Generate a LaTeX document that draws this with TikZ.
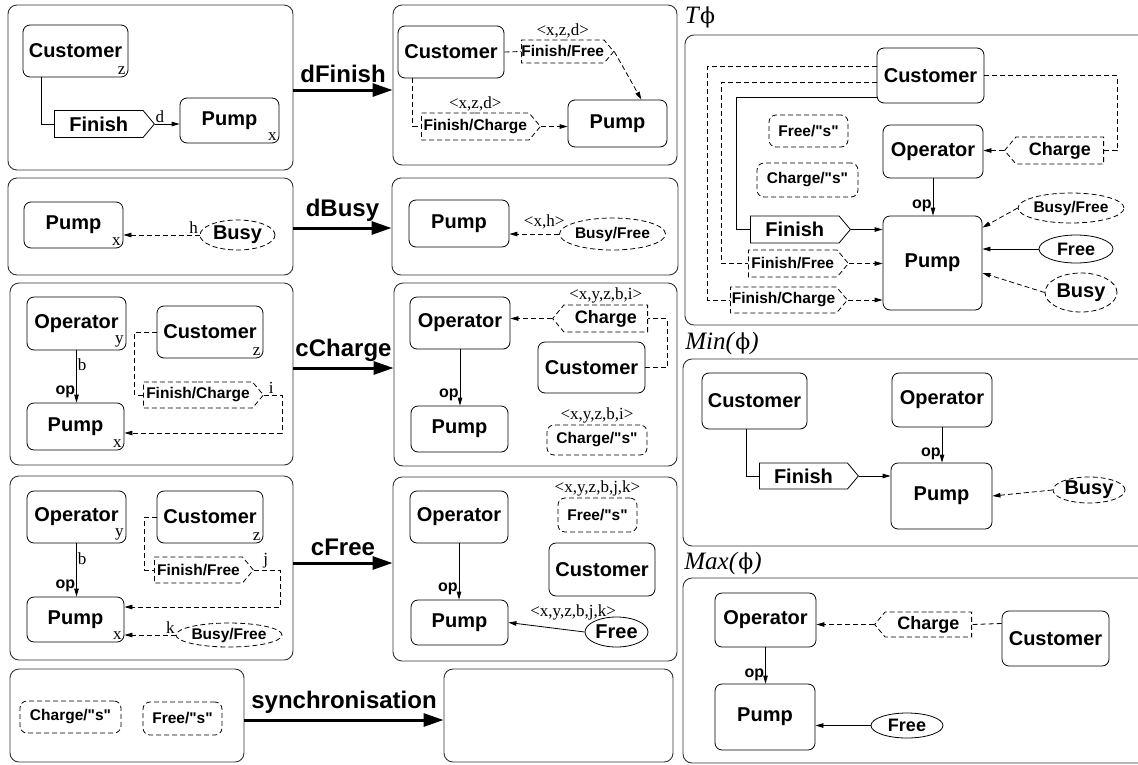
\documentclass[tikz,border=0pt]{standalone}
\usepackage{fontspec}
\setmainfont{Liberation Serif}
\setsansfont{Liberation Sans}
\newfontfamily\griega{DejaVu Serif}
\usepackage{tikz}
\usetikzlibrary{arrows.meta,shapes.geometric,shapes.symbols,calc}
\tikzset{
  marco/.style={draw=black!80,line width=0.9pt,rounded corners=9pt,inner sep=0pt},
  grande/.style={font=\sffamily\bfseries\fontsize{20}{22}\selectfont},
  medio/.style={font=\sffamily\bfseries\fontsize{18}{20}\selectfont},
  chica/.style={font=\sffamily\bfseries\fontsize{15.5}{17}\selectfont},
  etiq/.style={font=\fontsize{17}{19}\selectfont,inner sep=1pt},
  rotulo/.style={font=\sffamily\bfseries\fontsize{24}{26}\selectfont},
  titulo/.style={font=\fontsize{25}{27}\selectfont,inner sep=0pt},
  opl/.style={font=\sffamily\bfseries\fontsize{16}{18}\selectfont,inner sep=1pt},
  tam/.style 2 args={minimum width=#1,minimum height=#2},
  discont/.style={dash pattern=on 5pt off 3pt},
  caja/.style={draw,rounded corners=7pt,inner sep=0pt,grande},
  cajad/.style={draw,discont,rounded corners=7pt,inner sep=0pt,chica},
  elipse/.style={draw,ellipse,inner sep=0pt},
  senal/.style={draw,signal,signal to=east,signal pointer angle=100,inner sep=0pt},
  fl/.style={-{Triangle[length=8pt,width=4.5pt]}},
  flecha/.style={line width=3pt,-{Triangle[length=20pt,width=13pt]}},
  indice/.style={label={[etiq,anchor=south east,inner sep=2.5pt]south east:#1}}
}
\newcommand{\comis}{\textquotedbl s\textquotedbl}
\newcommand{\letrafi}{{\griega\fontsize{22}{24}\selectfont ϕ}}

\begin{document}
\begin{tikzpicture}[x=1pt,y=-1pt,line width=0.8pt]
\useasboundingbox (0,0) rectangle (1138,764);
\clip (0,0) rectangle (1138,764);
% marcos
\node[marco,tam={285}{165}] (izq1) at (150.5,87.5) {};
\node[marco,tam={284}{160}] (der1) at (535,85) {};
\node[marco,tam={285}{97}] (izq2) at (150.5,226.5) {};
\node[marco,tam={286}{97}] (der2) at (535,226.5) {};
\node[marco,tam={283}{182}] (izq3) at (151.5,374) {};
\node[marco,tam={283}{183}] (der3) at (535.5,374.5) {};
\node[marco,tam={283}{184}] (izq4) at (151.5,568) {};
\node[marco,tam={284}{184}] (der4) at (535,569) {};
\node[marco,tam={234}{93}] (izq5) at (127,715.5) {};
\node[marco,tam={229}{93}] (der5) at (558.5,715.5) {};
\node[marco,tam={465}{290}] (panT) at (917.5,180) {};
\node[marco,tam={467}{187}] (panM) at (916.5,452.5) {};
\node[marco,tam={467}{185}] (panX) at (916.5,670.5) {};
% reglas
\draw[flecha] ($(izq1.east)+(0,2.5)$) coordinate (a1) -- node[rotulo,above=2pt] {dFinish} (a1 -| der1.west);
\draw[flecha] ($(izq2.east)+(0,1.5)$) coordinate (a2) -- node[rotulo,above=2pt] {dBusy} (a2 -| der2.west);
\draw[flecha] ($(izq3.east)+(0,-6)$) coordinate (a3) -- node[rotulo,above=2pt] {cCharge} (a3 -| der3.west);
\draw[flecha] ($(izq4.east)+(0,-5)$) coordinate (a4) -- node[rotulo,above=2pt] {cFree} (a4 -| der4.west);
\draw[flecha] ($(izq5.east)+(0,4.5)$) coordinate (a5) -- node[rotulo,above=2pt] {synchronisation} (a5 -| der5.west);
% dFinish
\node[caja,tam={105}{52},indice=z] (cli1) at (75.5,51) {Customer};
\node[caja,tam={99}{45},indice=x] (bom1) at (229.5,120.5) {Pump};
\node[senal,grande,tam={100}{27},anchor=west] (fin1) at (54,124) {Finish};
\draw (cli1.south west) ++(19,0) |- (fin1.west);
\draw[fl] (fin1.east) -- node[etiq,pos=0.2,above]{d} (fin1.east -| bom1.west);
\node[caja,tam={106}{52}] (cli2) at (451,52) {Customer};
\node[caja,tam={99}{47}] (bom2) at (617.5,123.5) {Pump};
\node[senal,discont,chica,tam={92}{23},anchor=west,label={[etiq]above:{<x,z,d>}}] (ff2) at (521,51.5) {Finish/Free};
\node[senal,discont,chica,tam={119}{27},anchor=west,label={[etiq]above:{<x,z,d>}}] (fc2) at (421,126.5) {Finish/Charge};
\draw[discont] (cli2.east) -- (ff2.west);
\draw[discont,fl] (ff2.east) -- (bom2.45);
\draw[discont] (cli2.south west) ++(15,0) |- (fc2.west);
\draw[discont,fl] (fc2.east) -- (fc2.east -| bom2.west);
% dBusy
\node[caja,tam={99}{46},indice=x] (bom3) at (73.5,225) {Pump};
\node[elipse,discont,grande,tam={75}{30}] (ocu3) at (237.5,235) {Busy};
\draw[discont,fl] (ocu3.west) -- node[etiq,pos=0.08,above]{h} (ocu3.west -| bom3.east);
\node[caja,tam={100}{47}] (bom4) at (459,223.5) {Pump};
\node[elipse,discont,chica,tam={87}{32}] (of4) at (612.5,234) {Busy/Free};
\draw[discont,fl] (of4.west) -- node[etiq,pos=0.3,above=3pt]{<x,h>} (of4.west -| bom4.east);
% cCharge
\node[caja,tam={99}{53},indice=y] (ope5) at (76.5,323.5) {Operator};
\node[caja,tam={106}{52},indice=z] (cli5) at (210,332) {Customer};
\node[caja,tam={97}{47},indice=x] (bom5) at (75.5,426.5) {Pump};
\draw[fl] (ope5.south) -- node[etiq,pos=0.28,right]{b} node[opl,pos=0.8,left]{op} (ope5.south |- bom5.north);
\node[senal,discont,chica,tam={120}{26},anchor=west] (fc5) at (143,395) {Finish/Charge};
\draw[discont] (cli5.west) -- ++(-22,0) |- (fc5.west);
\draw[discont,fl] (fc5.east) -- node[etiq,pos=0.4,above]{i} ++(18,0) |- ($(bom5.east)+(0,6.5)$);
\node[caja,tam={100}{52}] (ope6) at (460,323) {Operator};
\node[caja,tam={97}{46}] (bom6) at (459.5,429) {Pump};
\draw[fl] (ope6.south) -- node[opl,pos=0.8,left]{op} (ope6.south |- bom6.north);
\node[senal,signal to=west,discont,medio,tam={95}{27},anchor=east,label={[etiq]above:{<x,y,z,b,i>}}] (car6) at (648,318.5) {Charge};
\draw[discont,fl] (car6.west) -- (car6.west -| ope6.east);
\node[caja,tam={107}{51}] (cli6) at (591.5,367.5) {Customer};
\draw[discont] (cli6.east) -- ++(22,0) |- (car6.east);
\node[cajad,tam={100}{30},label={[etiq]above:{<x,y,z,b,i>}}] (cs6) at (597,440) {Charge/\comis};
% cFree
\node[caja,tam={99}{52},indice=y] (ope7) at (76.5,517) {Operator};
\node[caja,tam={106}{52},indice=z] (cli7) at (210,517) {Customer};
\node[caja,tam={97}{45},indice=x] (bom7) at (75.5,619.5) {Pump};
\draw[fl] (ope7.south) -- node[etiq,pos=0.28,right]{b} node[opl,pos=0.8,left]{op} (ope7.south |- bom7.north);
\node[senal,discont,chica,tam={99}{26},anchor=west] (ff7) at (154,570) {Finish/Free};
\draw[discont] (cli7.west) -- ++(-12,0) |- (ff7.west);
\draw[discont,fl] (ff7.east) -- node[etiq,pos=0.45,above]{j} ++(26,0) |- ($(bom7.east)+(0,-12.5)$);
\node[elipse,discont,chica,tam={92}{24}] (of7) at (229,635) {Busy/Free};
\draw[discont,fl] (of7.west) -- node[etiq,pos=0.1,above]{k} (of7.west -| bom7.east);
\node[caja,tam={98}{52}] (ope8) at (459,517) {Operator};
\node[caja,tam={97}{45}] (bom8) at (459.5,622.5) {Pump};
\draw[fl] (ope8.south) -- node[opl,pos=0.8,left]{op} (ope8.south |- bom8.north);
\node[cajad,tam={79}{34},label={[etiq]above:{<x,y,z,b,j,k>}}] (fs8) at (597.5,515) {Free/\comis};
\node[caja,tam={106}{53}] (cli8) at (602,569.5) {Customer};
\node[elipse,grande,tam={63}{30}] (li8) at (616.5,632) {Free};
\draw[fl] (li8.west) -- node[etiq,pos=0.15,above=9pt]{<x,y,z,b,j,k>} (bom8.east);
% synchronisation
\node[cajad,tam={101}{32}] (cs9) at (70.5,717) {Charge/\comis};
\node[cajad,tam={79}{33}] (fs9) at (182.5,718.5) {Free/\comis};
% T phi
\node[titulo] (tphi) at (700,17) {\textit{T}\letrafi};
\node[caja,tam={107}{55}] (cliT) at (930.5,75.5) {Customer};
\node[caja,tam={100}{53}] (opeT) at (933,151.5) {Operator};
\node[caja,tam={99}{94}] (bomT) at (932.5,263) {Pump};
\node[cajad,tam={79}{32}] (fsT) at (808.5,131) {Free/\comis};
\node[cajad,tam={101}{34}] (csT) at (807.5,180) {Charge/\comis};
\node[senal,signal to=west,discont,medio,tam={99}{27},anchor=east] (carT) at (1104,150.5) {Charge};
\draw[discont,fl] (carT.west) -- (carT.west -| opeT.east);
\draw[discont] (cliT.east) -- ++(133,0) |- (carT.east);
\node[senal,grande,tam={100}{27},anchor=west] (finT) at (750,229.5) {Finish};
\node[senal,discont,chica,tam={100}{27},anchor=west] (ffT) at (748,263.5) {Finish/Free};
\node[senal,discont,chica,tam={117}{26},anchor=west] (fcT) at (730,300) {Finish/Charge};
\draw ($(cliT.west)+(0,21.5)$) -- ++(-140,0) |- (finT.west);
\draw[discont] ($(cliT.west)+(0,6.5)$) -- ++(-155,0) |- (ffT.west);
\draw[discont] ($(cliT.west)+(0,-9.5)$) -- ++(-169,0) |- (fcT.west);
\draw[fl] (finT.east) -- (finT.east -| bomT.west);
\draw[discont,fl] (ffT.east) -- (ffT.east -| bomT.west);
\draw[discont,fl] (fcT.east) -- (fcT.east -| bomT.west);
\draw[fl] (opeT.south) -- node[opl,pos=0.75,left]{op} (opeT.south |- bomT.north);
\node[elipse,discont,chica,tam={92}{30}] (ofT) at (1071,208) {Busy/Free};
\node[elipse,medio,tam={74}{28}] (liT) at (1076,249) {Free};
\node[elipse,discont,grande,tam={72}{39}] (ocT) at (1081,292.5) {Busy};
\draw[discont,fl] (ofT.west) -- ($(bomT.north east)+(0,12)$);
\draw[fl] (liT.west) -- (liT.west -| bomT.east);
\draw[discont,fl] (ocT.west) -- ($(bomT.east)+(0,10)$);
% Min
\node[titulo] (tmin) at (722,343) {\textit{Min(}\letrafi\textit{)}};
\node[caja,tam={105}{56}] (cliM) at (754.5,401) {Customer};
\node[caja,tam={100}{54}] (opeM) at (942,400) {Operator};
\node[caja,tam={101}{66}] (bomM) at (941.5,496) {Pump};
\node[senal,grande,tam={99}{26},anchor=west] (finM) at (759,476) {Finish};
\draw (cliM.south west) ++(45,0) |- (finM.west);
\draw[fl] (finM.east) -- (finM.east -| bomM.west);
\draw[fl] (opeM.south) -- node[opl,pos=0.75,left]{op} (opeM.south |- bomM.north);
\node[elipse,discont,grande,tam={72}{26}] (ocM) at (1089,490) {Busy};
\draw[discont,fl] (ocM.west) -- (bomM.east);
% Max
\node[titulo] (tmax) at (723,563) {\textit{Max(}\letrafi\textit{)}};
\node[caja,tam={101}{54}] (opeX) at (765.5,620) {Operator};
\node[caja,tam={100}{66}] (bomX) at (765,717) {Pump};
\draw[fl] (opeX.south) -- node[opl,pos=0.75,left]{op} (opeX.south |- bomX.north);
\node[senal,signal to=west,discont,medio,tam={97}{25},anchor=east] (carX) at (972,624.5) {Charge};
\draw[discont,fl] (carX.west) -- (carX.west -| opeX.east);
\node[caja,tam={107}{55}] (cliX) at (1055.5,638.5) {Customer};
\draw[discont] ($(cliX.west)+(0,-15)$) -- (carX.east);
\node[elipse,medio,tam={72}{25}] (liX) at (907,725.5) {Free};
\draw[fl] (liX.west) -- (liX.west -| bomX.east);
\end{tikzpicture}
\end{document}
